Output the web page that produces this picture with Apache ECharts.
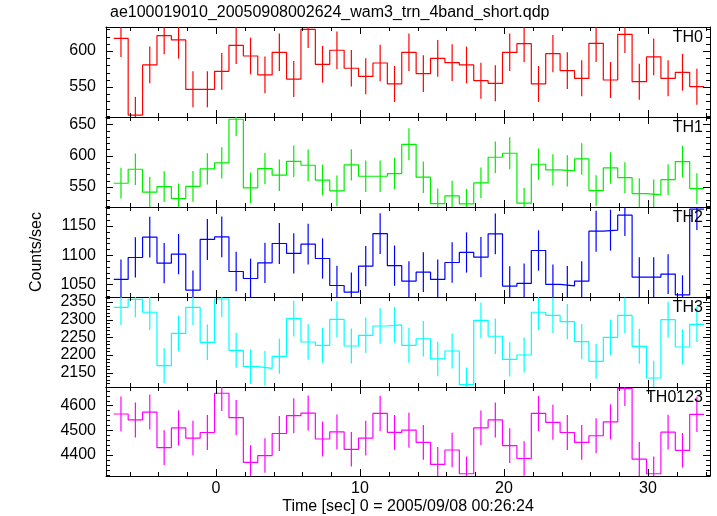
<!DOCTYPE html>
<html><head><meta charset="utf-8">
<script src="https://cdn.jsdelivr.net/npm/echarts@6/dist/echarts.min.js"></script>
<style>html,body{margin:0;padding:0;background:#fff}#c{width:717px;height:516px}</style>
</head><body><div id="c"></div>
<script>
// ---- data ----
const times = [-6.6,-5.6,-4.6,-3.6,-2.6,-1.6,-0.6,0.4,1.4,2.4,3.4,4.4,5.4,6.4,7.4,8.4,9.4,10.4,11.4,12.4,13.4,14.4,15.4,16.4,17.4,18.4,19.4,20.4,21.4,22.4,23.4,24.4,25.4,26.4,27.4,28.4,29.4,30.4,31.4,32.4,33.4];
const binWidth = 1.0;

const th0 = [617.6,511,580.6,621.3,615.3,546.8,546.8,571.8,607.9,593,566.7,598.1,561,630,581.5,601,576,564.8,583.3,554.2,598.1,568.5,589.8,583.8,580.6,558.8,555.1,598.1,610.2,554.2,596.3,572.7,562,610.6,559.7,623.1,557.4,591.7,562,570.4,550.4];
const th0Err = [26,25,25.5,26,26,25,25,25.5,26,25.5,25.5,26,25,26,25.5,26,25.5,25,25.5,25,26,25.5,25.5,25.5,25.5,25,25,26,26,25,26,25.5,25,26,25,26,25,25.5,25,25.5,25];

const th1 = [556,578.3,541.7,550.6,531.5,551,578.8,588.4,658,548.6,579.3,568.8,591,584.7,561,543.8,585.2,567.1,567.1,571.4,618,565.6,523.6,535.8,523,556.5,597.4,603.8,524.2,586.3,577.2,575.6,594.7,544.3,580.4,565,539.5,537.4,561.8,590.5,547.5];
const th1Err = [24.5,25,24.5,24.5,24,24.5,25,25,26.5,24.5,25,25,25,25,24.5,24.5,25,25,25,25,25.5,25,24,24,24,24.5,25,25.5,24,25,25,25,25,24.5,25,24.5,24.5,24.5,24.5,25,24.5];

const th2 = [1058.4,1096,1130.8,1086.3,1101.7,1040,1126.9,1131.3,1072,1060,1086.8,1120,1102.9,1118.8,1094.3,1048,1036.6,1081.2,1137,1082,1055.5,1070.9,1058.4,1087.4,1104.6,1096.6,1136.5,1047,1051.5,1108,1049.8,1047.5,1055.5,1141,1142.8,1168.5,1062.3,1062.3,1067.5,1032,1178.8];
const th2Err = [34,34.5,35,34.5,34.5,33.5,35,35,34,34,34.5,35,34.5,35,34.5,34,33.5,34.5,35,34.5,34,34,34,34.5,34.5,34.5,35,34,34,34.5,34,34,34,35,35,35.5,34,34,34,33.5,35.5];

const th3 = [2335,2357.6,2320.9,2169.9,2261.4,2335,2236,2358.5,2213.3,2167,2162.4,2196.4,2302.8,2236.8,2227.4,2301,2225.5,2255.8,2282,2285,2227.4,2246,2188.8,2211.4,2116,2298.2,2253,2187.9,2200,2320.9,2312.4,2294.3,2237.7,2182,2250,2312.4,2224.6,2135,2300,2222.7,2286.9];
const th3Err = [50,51,50,49,50,50,50,51,49.5,49,49,49.5,50.5,50,49.5,50.5,49.5,50,50,50,49.5,50,49,49.5,48.5,50.5,50,49,49.5,50.5,50.5,50,50,49,50,50.5,49.5,48.5,50.5,49.5,50];

const th0123 = [4565.6,4541.6,4573.4,4429.4,4509.4,4468,4490.8,4649.6,4550.8,4369.6,4397.6,4486.8,4558.8,4569.4,4464.4,4493.4,4422.8,4468,4568,4491,4500,4450.8,4361.6,4420,4324,4509.4,4541.6,4437.6,4385.6,4568,4532,4490.8,4450.8,4477.6,4533.6,4669.6,4382.8,4324,4492,4418.8,4564];
const th0123Err = [71,71,71,70,71,70.5,70.5,72,71,70,70,70.5,71,71,70.5,70.5,70,70.5,71,70.5,70.5,70.5,70,70,69.5,70.5,71,70,70,71,71,70.5,70.5,70.5,71,72,70,69.5,70.5,70,71];

const panelNames = ['TH0','TH1','TH2','TH3','TH0123'];
const panelValues = [th0, th1, th2, th3, th0123];
const panelErrors = [th0Err, th1Err, th2Err, th3Err, th0123Err];
const panelColors = ['#ff0000','#00ee00','#0000ff','#00ffff','#ff00ff'];

const xTickLabels = [0, 10, 20, 30];
const xMinorTicks = [-6,-4,-2,2,4,6,8,12,14,16,18,22,24,26,28,32,34];
const yTickLabels = [[550,600],[550,600,650],[1050,1100,1150],[2150,2200,2250,2300,2350],[4400,4500,4600]];
const yMinorStep = [10,10,10,10,20];
const yRanges = [[508.3,633.3],[518.1,661.6],[1028.3,1182.5],[2109.5,2364.1],[4314.8,4674.8]];

const titleText = 'ae100019010_20050908002624_wam3_trn_4band_short.qdp';
const xName = 'Time [sec] 0 = 2005/09/08 00:26:24';
const yName = 'Counts/sec';

// ---- layout ----
const XMIN = -7.64, XMAX = 34.31;
const LEFT = 106, RIGHT = 7, TOP = 27, PH = 90;
const MAJOR_LEN = 7, MINOR_LEN = 4;
const FONT = "'Liberation Sans', Arial, Helvetica, sans-serif";
const plain = v => String(v);

const grids = [], xAxes = [], yAxes = [], series = [], graphics = [];

function minorVals(k) {
  const [lo, hi] = yRanges[k], st = yMinorStep[k], out = [];
  for (let v = Math.ceil(lo / st) * st; v <= hi; v += st) {
    if (yTickLabels[k].indexOf(v) < 0) out.push(v);
  }
  return out;
}
const lineOn = {show: true, onZero: false, lineStyle: {color: '#000', width: 1}};

for (let k = 0; k < 5; k++) {
  grids.push({left: LEFT, right: RIGHT, top: TOP + PH * k, height: PH, show: false, containLabel: false});
  const last = k === 4;
  const xBase = {type: 'value', gridIndex: k, min: XMIN, max: XMAX, splitLine: {show: false}, axisLine: lineOn, axisTick: {show: false}};
  xAxes.push(Object.assign({}, xBase, {position: 'bottom',
    axisLabel: {show: last, customValues: xTickLabels, formatter: plain, color: '#000', fontSize: 16, fontFamily: FONT, margin: 5},
    name: last ? xName : '', nameLocation: 'middle', nameGap: 23,
    nameTextStyle: {color: '#000', fontSize: 16, fontFamily: FONT}}));
  xAxes.push(Object.assign({}, xBase, {position: 'top', axisLabel: {show: false}}));

  const yBase = {type: 'value', gridIndex: k, min: yRanges[k][0], max: yRanges[k][1], splitLine: {show: false}, axisLine: lineOn, axisTick: {show: false}};
  yAxes.push(Object.assign({}, yBase, {position: 'left',
    axisLabel: {show: true, customValues: yTickLabels[k], formatter: plain, color: '#000', fontSize: 16, fontFamily: FONT, margin: 10}}));
  yAxes.push(Object.assign({}, yBase, {position: 'right', axisLabel: {show: false}}));

  const vals = panelValues[k], errs = panelErrors[k], col = panelColors[k];
  const stepData = [];
  times.forEach((t, i) => { stepData.push([t - binWidth / 2, vals[i]], [t + binWidth / 2, vals[i]]); });
  series.push({type: 'line', xAxisIndex: 2 * k, yAxisIndex: 2 * k, data: stepData,
    symbol: 'none', showSymbol: false, clip: true, animation: false, silent: true,
    lineStyle: {color: col, width: 1.2}, z: 1});
  series.push({type: 'custom', xAxisIndex: 2 * k, yAxisIndex: 2 * k, clip: true, animation: false, silent: true,
    data: times.map((t, i) => [t, vals[i], errs[i]]),
    encode: {x: 0, y: 1},
    renderItem: function (params, api) {
      const x = api.value(0), y = api.value(1), e = api.value(2);
      const p1 = api.coord([x, y - e]), p2 = api.coord([x, y + e]);
      const cs = params.coordSys;
      return {type: 'line', shape: {x1: p1[0], y1: p1[1], x2: p2[0], y2: p2[1]},
        style: {stroke: col, lineWidth: 1.2},
        clipPath: {type: 'rect', shape: {x: cs.x, y: cs.y, width: cs.width, height: cs.height}}};
    }, z: 1});

  graphics.push({type: 'text', right: 717 - 703, top: TOP + PH * k + 3, z: 100,
    style: {text: panelNames[k], fill: '#000', fontSize: 16, fontFamily: FONT}});
}

graphics.push({type: 'text', left: 110, top: 5, z: 100,
  style: {text: titleText, fill: '#000', fontSize: 16, fontFamily: FONT}});
graphics.push({type: 'text', x: 37, y: 252, rotation: Math.PI / 2, z: 100,
  style: {text: yName, fill: '#000', fontSize: 16, fontFamily: FONT, align: 'center', verticalAlign: 'middle'}});

const chart = echarts.init(document.getElementById('c'), null, {renderer: 'canvas'});
chart.setOption({animation: false, backgroundColor: '#fff',
  grid: grids, xAxis: xAxes, yAxis: yAxes, series: series, graphic: graphics});

// tick marks on all four sides, placed with the chart's own axis scales
const tickEls = [];
const sty = {stroke: '#000', lineWidth: 1};
for (let k = 0; k < 5; k++) {
  const xi = 2 * k, yi = 2 * k, yr = yRanges[k];
  const xl = chart.convertToPixel({xAxisIndex: xi}, XMIN);
  const xr = chart.convertToPixel({xAxisIndex: xi}, XMAX);
  const yb = chart.convertToPixel({yAxisIndex: yi}, yr[0]);
  const yt = chart.convertToPixel({yAxisIndex: yi}, yr[1]);
  const addX = (v, len) => {
    const px = Math.round(chart.convertToPixel({xAxisIndex: xi}, v)) + 0.5;
    if (px < xl || px > xr) return;
    tickEls.push({type: 'line', z: 90, silent: true, shape: {x1: px, y1: yb, x2: px, y2: yb - len}, style: sty});
    tickEls.push({type: 'line', z: 90, silent: true, shape: {x1: px, y1: yt, x2: px, y2: yt + len}, style: sty});
  };
  const addY = (v, len) => {
    const py = Math.round(chart.convertToPixel({yAxisIndex: yi}, v)) + 0.5;
    tickEls.push({type: 'line', z: 90, silent: true, shape: {x1: xl, y1: py, x2: xl + len, y2: py}, style: sty});
    tickEls.push({type: 'line', z: 90, silent: true, shape: {x1: xr, y1: py, x2: xr - len, y2: py}, style: sty});
  };
  xTickLabels.forEach(v => addX(v, MAJOR_LEN));
  xMinorTicks.forEach(v => addX(v, MINOR_LEN));
  yTickLabels[k].forEach(v => addY(v, MAJOR_LEN));
  minorVals(k).forEach(v => addY(v, MINOR_LEN));
}
chart.setOption({graphic: graphics.concat(tickEls)});
</script></body></html>
